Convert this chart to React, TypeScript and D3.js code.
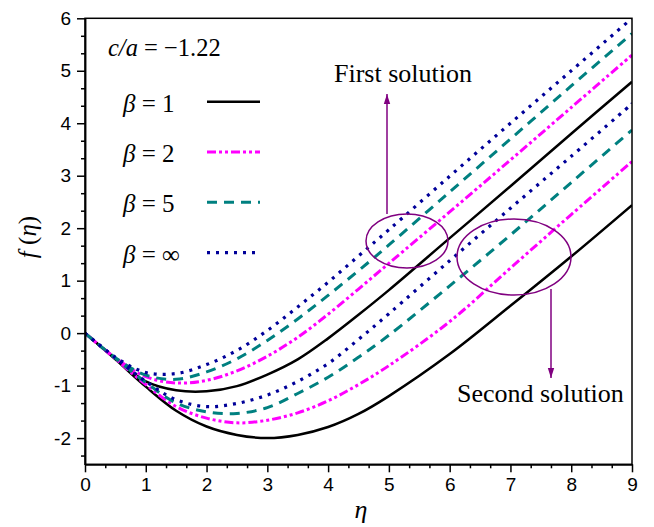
import React, { useEffect, useRef } from "react";
import * as d3 from "d3";

// eta grid shared by all curves
const eta = [0, 0.5, 1, 1.5, 2, 2.5, 3, 3.5, 4, 4.5, 5, 6, 7, 8, 9];

// first solution (upper branch)
const firstB1 = [0, -0.48, -0.92, -1.09, -1.11, -1.01, -0.79, -0.5, -0.1, 0.35, 0.82, 1.81, 2.8, 3.8, 4.79];
const firstB2 = [0, -0.47, -0.83, -0.95, -0.9, -0.72, -0.44, -0.08, 0.36, 0.84, 1.33, 2.31, 3.3, 4.3, 5.3];
const firstB5 = [0, -0.47, -0.8, -0.88, -0.74, -0.49, -0.14, 0.27, 0.72, 1.19, 1.68, 2.69, 3.7, 4.71, 5.71];
const firstBInf = [0, -0.46, -0.75, -0.77, -0.6, -0.33, 0.05, 0.5, 0.97, 1.47, 1.97, 2.99, 4.0, 5.0, 6.0];

// second solution (lower branch)
const secondB1 = [0, -0.5, -1.02, -1.48, -1.78, -1.94, -2.0, -1.94, -1.79, -1.54, -1.2, -0.4, 0.52, 1.46, 2.44];
const secondB2 = [0, -0.49, -0.98, -1.4, -1.62, -1.71, -1.66, -1.52, -1.29, -0.98, -0.62, 0.22, 1.24, 2.26, 3.27];
const secondB5 = [0, -0.48, -0.94, -1.33, -1.5, -1.53, -1.42, -1.15, -0.84, -0.46, -0.04, 0.9, 1.87, 2.87, 3.87];
const secondBInf = [0, -0.47, -0.92, -1.27, -1.4, -1.34, -1.18, -0.92, -0.58, -0.12, 0.37, 1.38, 2.38, 3.37, 4.37];

const legendLabels = ["1", "2", "5", "∞"];
const xTicks = [0, 1, 2, 3, 4, 5, 6, 7, 8, 9];
const yTicks = [-2, -1, 0, 1, 2, 3, 4, 5, 6];

const styles = [
  { color: "#000000", dash: null, width: 2.5 },
  { color: "#ff00ff", dash: "9,3,3,3,3,3", width: 3 },
  { color: "#008080", dash: "10,7", width: 3 },
  { color: "#000099", dash: "3,6", width: 3.2 },
];

const series = [
  { values: firstB1, s: 0 },
  { values: firstB2, s: 1 },
  { values: firstB5, s: 2 },
  { values: firstBInf, s: 3 },
  { values: secondB1, s: 0 },
  { values: secondB2, s: 1 },
  { values: secondB5, s: 2 },
  { values: secondBInf, s: 3 },
];

export default function App() {
  const ref = useRef<SVGSVGElement>(null);

  useEffect(() => {
    const svg = d3.select(ref.current);
    svg.selectAll("*").remove();

    const left = 85, right = 632, top = 18.3, bottom = 464.3;
    const x = d3.scaleLinear().domain([0, 9]).range([left, right]);
    const y = d3.scaleLinear().domain([-2.5, 6]).range([bottom, top]);

    const defs = svg.append("defs");
    defs.append("marker")
      .attr("id", "arrow")
      .attr("viewBox", "0 0 10 10")
      .attr("refX", 10)
      .attr("refY", 5)
      .attr("markerWidth", 10)
      .attr("markerHeight", 8)
      .attr("markerUnits", "userSpaceOnUse")
      .attr("orient", "auto")
      .attr("preserveAspectRatio", "none")
      .append("path")
      .attr("d", "M0,1 L10,5 L0,9 Z")
      .attr("fill", "#800080");
    defs.append("clipPath").attr("id", "plotclip")
      .append("rect")
      .attr("x", left).attr("y", top)
      .attr("width", right - left).attr("height", bottom - top);

    // curves
    const line = d3.line<number>()
      .x((d, i) => x(eta[i]))
      .y(d => y(d))
      .curve(d3.curveCatmullRom.alpha(0.5));

    const plot = svg.append("g").attr("clip-path", "url(#plotclip)");
    series.forEach(sr => {
      const st = styles[sr.s];
      plot.append("path")
        .datum(sr.values)
        .attr("d", line)
        .attr("fill", "none")
        .attr("stroke", st.color)
        .attr("stroke-width", st.width)
        .attr("stroke-dasharray", st.dash);
    });

    // frame
    svg.append("rect")
      .attr("x", left).attr("y", top)
      .attr("width", right - left).attr("height", bottom - top)
      .attr("fill", "none")
      .attr("stroke", "black")
      .attr("stroke-width", 1.5);

    // axes
    const fmt = (d: any) => String(d).replace("−", "-");
    const xMinor = d3.range(0, 27).map(i => i / 3).filter(v => v % 1 !== 0);
    const yMinor = d3.range(-7, 19).map(i => i / 3).filter(v => Math.abs(v % 1) > 0.01);

    const gx = svg.append("g").attr("transform", `translate(0,${bottom})`);
    gx.call(d3.axisBottom(x).tickValues(xTicks).tickSize(8).tickSizeOuter(0).tickPadding(5).tickFormat(fmt));
    gx.append("g").call(d3.axisBottom(x).tickValues(xMinor).tickSize(4).tickSizeOuter(0).tickFormat(() => ""));

    const gy = svg.append("g").attr("transform", `translate(${left},0)`);
    gy.call(d3.axisLeft(y).tickValues(yTicks).tickSize(8).tickSizeOuter(0).tickPadding(6).tickFormat(fmt));
    gy.append("g").call(d3.axisLeft(y).tickValues(yMinor).tickSize(4).tickSizeOuter(0).tickFormat(() => ""));

    svg.selectAll(".domain").attr("stroke-width", 1.5);
    svg.selectAll(".tick line").attr("stroke-width", 1.5);
    svg.selectAll(".tick text")
      .attr("font-family", "Liberation Sans, Arial, sans-serif")
      .attr("font-size", 19)
      .attr("fill", "black");

    // axis titles
    const serif = "Liberation Serif, Times New Roman, serif";
    const xt = svg.append("text")
      .attr("x", 361).attr("y", 518)
      .attr("text-anchor", "middle")
      .attr("font-family", serif).attr("font-size", 26);
    xt.append("tspan").attr("font-style", "italic").text("η");

    const yt = svg.append("text")
      .attr("transform", "translate(36,237) rotate(-90)")
      .attr("text-anchor", "middle")
      .attr("font-family", serif).attr("font-size", 25);
    yt.append("tspan").attr("font-style", "italic").text("f");
    yt.append("tspan").text(" (");
    yt.append("tspan").attr("font-style", "italic").text("η");
    yt.append("tspan").text(")");

    // parameter text
    const ca = svg.append("text")
      .attr("x", 108).attr("y", 56)
      .attr("font-family", serif).attr("font-size", 24.5);
    ca.append("tspan").attr("font-style", "italic").text("c/a");
    ca.append("tspan").text(" = −1.22");

    // legend
    legendLabels.forEach((lab, i) => {
      const ly = 111.7 + i * 50.3;
      const t = svg.append("text")
        .attr("x", 123).attr("y", ly)
        .attr("font-family", serif).attr("font-size", 25);
      t.append("tspan").attr("font-style", "italic").text("β");
      t.append("tspan").text(" = " + lab);
      const st = styles[i];
      svg.append("line")
        .attr("x1", 207).attr("x2", 260)
        .attr("y1", ly - 10).attr("y2", ly - 10)
        .attr("stroke", st.color)
        .attr("stroke-width", st.width)
        .attr("stroke-dasharray", st.dash);
    });

    // annotations
    const purple = "#800080";
    svg.append("ellipse")
      .attr("cx", 407).attr("cy", 241).attr("rx", 41).attr("ry", 27)
      .attr("fill", "none").attr("stroke", purple).attr("stroke-width", 1.5);
    svg.append("ellipse")
      .attr("cx", 514).attr("cy", 257).attr("rx", 57).attr("ry", 38)
      .attr("fill", "none").attr("stroke", purple).attr("stroke-width", 1.5);
    svg.append("line")
      .attr("x1", 387).attr("y1", 214).attr("x2", 387).attr("y2", 94)
      .attr("stroke", purple).attr("stroke-width", 1.5)
      .attr("marker-end", "url(#arrow)");
    svg.append("line")
      .attr("x1", 551).attr("y1", 289).attr("x2", 551).attr("y2", 378)
      .attr("stroke", purple).attr("stroke-width", 1.5)
      .attr("marker-end", "url(#arrow)");

    svg.append("text")
      .attr("x", 334).attr("y", 82)
      .attr("font-family", serif).attr("font-size", 26)
      .text("First solution");
    svg.append("text")
      .attr("x", 457).attr("y", 402)
      .attr("font-family", serif).attr("font-size", 26)
      .text("Second solution");
  }, []);

  return (
    <svg ref={ref} width={654} height={527}
      style={{ position: "absolute", left: 0, top: 0, background: "white" }} />
  );
}
